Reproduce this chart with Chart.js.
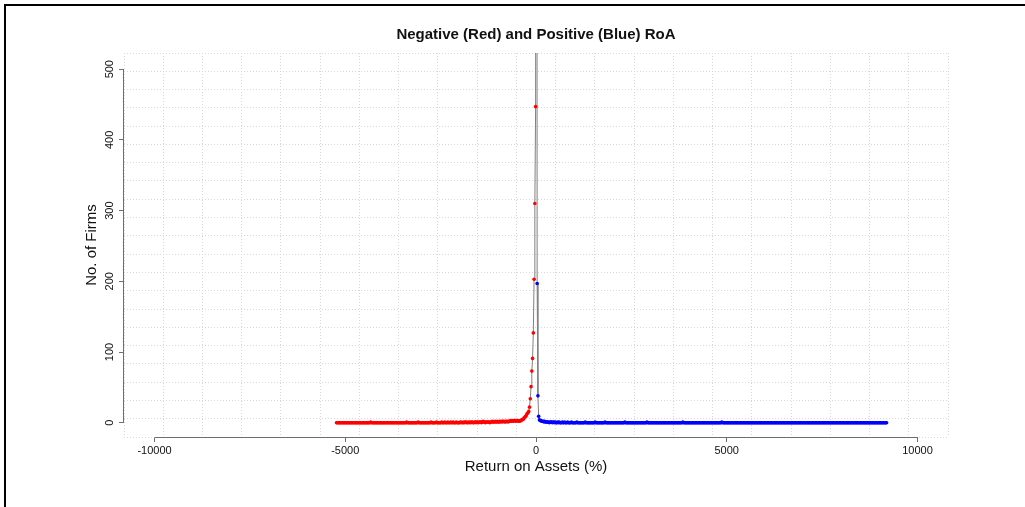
<!DOCTYPE html>
<html>
<head>
<meta charset="utf-8">
<script src="https://cdn.jsdelivr.net/npm/chart.js@4.4.1/dist/chart.umd.min.js"></script>
<style>
  html, body { margin: 0; padding: 0; background: #fff; }
  #wrap { position: relative; width: 1025px; height: 507px; overflow: hidden; }
  #frame { position: absolute; left: 4px; top: 4px; right: 0; bottom: 0; border-top: 2px solid #000; border-left: 2px solid #000; pointer-events: none; }
</style>
</head>
<body>
<div id="wrap">
  <canvas id="chart_roaFrequency" width="1025" height="507"></canvas>
  <div id="frame"></div>
</div>
<script>
var chartTitle = 'Negative (Red) and Positive (Blue) RoA';
var xAxisTitle = 'Return on Assets (%)';
var yAxisTitle = 'No. of Firms';
var xTickValues = [-10000, -5000, 0, 5000, 10000];
var yTickValues = [0, 100, 200, 300, 400, 500];

// frequency per RoA bin, bins 20 points wide
var binWidth = 20;
var negativeFirstBin = -5230;
var positiveFirstBin = 10;

var negativeCounts = [
  0, 0, 0, 0, 0, 0, 0, 0, 0, 0, 0, 0, 0, 0, 0, 0, 0, 0, 0, 0,
  0, 0, 0, 0, 0, 0, 0, 0, 0, 0, 0, 0, 0, 0, 0, 0, 0, 0, 0, 0,
  0, 0, 0, 0, 0, 1, 0, 0, 0, 0, 0, 0, 0, 0, 0, 0, 0, 0, 0, 0,
  0, 0, 0, 0, 0, 0, 0, 0, 0, 0, 0, 0, 0, 0, 0, 0, 0, 0, 0, 0,
  0, 0, 0, 0, 0, 0, 0, 0, 0, 0, 0, 0, 1, 0, 0, 0, 0, 0, 0, 0,
  0, 0, 0, 0, 0, 0, 0, 1, 0, 0, 0, 0, 0, 0, 0, 0, 0, 0, 0, 0,
  0, 0, 0, 0, 1, 0, 0, 0, 0, 0, 0, 1, 0, 0, 0, 0, 0, 0, 1, 0,
  0, 0, 1, 0, 0, 0, 1, 0, 0, 0, 1, 0, 0, 1, 0, 0, 0, 1, 0, 0,
  0, 0, 1, 0, 1, 0, 0, 1, 0, 1, 1, 0, 0, 1, 0, 1, 0, 1, 1, 0,
  0, 1, 1, 0, 1, 1, 0, 1, 1, 1, 0, 1, 2, 1, 1, 0, 1, 1, 1, 1,
  1, 0, 1, 1, 2, 1, 1, 1, 2, 1, 1, 2, 1, 1, 2, 1, 2, 1, 2, 2,
  1, 2, 1, 2, 2, 1, 2, 2, 3, 2, 2, 3, 2, 3, 3, 2, 3, 3, 2, 3,
  2, 3, 3, 4, 5, 5, 7, 8, 9, 11, 13, 14, 16, 22, 34, 51, 73, 91, 127, 203,
  310, 447
];

var positiveCounts = [
  2600, 197, 38, 9, 4, 3, 3, 2, 2, 2, 1, 2, 1, 1, 1, 1, 1, 0, 1, 1,
  1, 0, 1, 1, 0, 1, 0, 0, 1, 0, 1, 0, 0, 0, 1, 0, 0, 1, 0, 0,
  0, 1, 0, 0, 0, 0, 1, 0, 0, 0, 0, 0, 0, 1, 0, 0, 0, 0, 0, 0,
  0, 0, 0, 0, 1, 0, 0, 0, 0, 0, 0, 0, 0, 0, 0, 0, 0, 1, 0, 0,
  0, 0, 0, 0, 0, 0, 0, 0, 0, 0, 1, 0, 0, 0, 0, 0, 0, 0, 0, 0,
  0, 0, 0, 0, 0, 0, 0, 0, 0, 0, 0, 0, 0, 0, 0, 0, 1, 0, 0, 0,
  0, 0, 0, 0, 0, 0, 0, 0, 0, 0, 0, 0, 0, 0, 0, 0, 0, 0, 0, 0,
  0, 0, 0, 0, 0, 1, 0, 0, 0, 0, 0, 0, 0, 0, 0, 0, 0, 0, 0, 0,
  0, 0, 0, 0, 0, 0, 0, 0, 0, 0, 0, 0, 0, 0, 0, 0, 0, 0, 0, 0,
  0, 0, 0, 0, 0, 0, 0, 0, 0, 0, 0, 0, 1, 0, 0, 0, 0, 0, 0, 0,
  0, 0, 0, 0, 0, 0, 0, 0, 0, 0, 0, 0, 0, 0, 0, 0, 0, 0, 0, 0,
  0, 0, 0, 0, 0, 0, 0, 0, 0, 0, 0, 0, 0, 0, 0, 0, 0, 0, 0, 0,
  0, 0, 0, 1, 0, 0, 0, 0, 0, 0, 0, 0, 0, 0, 0, 0, 0, 0, 0, 0,
  0, 0, 0, 0, 0, 0, 0, 0, 0, 0, 0, 0, 0, 0, 0, 0, 0, 0, 0, 0,
  0, 0, 0, 0, 0, 0, 0, 0, 0, 0, 0, 0, 0, 0, 0, 0, 0, 0, 0, 0,
  0, 0, 0, 0, 0, 0, 0, 0, 0, 0, 0, 0, 0, 0, 0, 0, 0, 0, 0, 0,
  0, 0, 0, 0, 0, 0, 0, 0, 0, 0, 0, 0, 0, 0, 0, 0, 0, 0, 0, 0,
  0, 0, 0, 0, 0, 0, 0, 0, 0, 0, 0, 0, 0, 0, 0, 0, 0, 0, 0, 0,
  0, 0, 0, 0, 0, 0, 0, 0, 0, 0, 0, 0, 0, 0, 0, 0, 0, 0, 0, 0,
  0, 0, 0, 0, 0, 0, 0, 0, 0, 0, 0, 0, 0, 0, 0, 0, 0, 0, 0, 0,
  0, 0, 0, 0, 0, 0, 0, 0, 0, 0, 0, 0, 0, 0, 0, 0, 0, 0, 0, 0,
  0, 0, 0, 0, 0, 0, 0, 0, 0, 0, 0, 0, 0, 0, 0, 0, 0, 0, 0, 0,
  0, 0, 0, 0, 0, 0, 0, 0, 0, 0, 0, 0, 0, 0, 0, 0, 0, 0, 0, 0
];

var fontFamily = '"Liberation Sans", Arial, Helvetica, sans-serif';
var axisColor = '#6e6e6e';
var gridColor = '#d8d8d8';

function toPoints(counts, firstBin) {
    return counts.map(function(c, i) { return { x: firstBin + i * binWidth, y: c }; });
}
var negativePoints = toPoints(negativeCounts, negativeFirstBin);
var positivePoints = toPoints(positiveCounts, positiveFirstBin);

// R-style grid: 21 equal cells across the plot region
function evenGridTicks(scale) {
    var ticks = [];
    for (var i = 0; i <= 21; i++) {
        ticks.push({ value: scale.min + (scale.max - scale.min) * i / 21 });
    }
    scale.ticks = ticks;
}

var chart_roaFrequency = new Chart(document.getElementById('chart_roaFrequency'), {
    type: 'scatter',
    data: {
        datasets: [
            {
                label: 'Negative RoA',
                data: negativePoints,
                pointRadius: 1.8,
                pointBorderWidth: 0,
                pointBackgroundColor: '#ff0000',
                order: 1
            },
            {
                label: 'Positive RoA',
                data: positivePoints,
                pointRadius: 1.8,
                pointBorderWidth: 0,
                pointBackgroundColor: '#0000ff',
                order: 1
            },
            {
                label: 'All firms',
                data: negativePoints.concat(positivePoints),
                showLine: true,
                borderColor: '#808080',
                borderWidth: 1,
                pointRadius: 0,
                order: 2
            }
        ]
    },
    options: {
        animation: false,
        responsive: false,
        events: [],
        layout: { padding: { left: 0, top: 53, right: 77, bottom: 0 } },
        plugins: {
            legend: { display: false },
            tooltip: { enabled: false }
        },
        scales: {
            x: {
                type: 'linear',
                position: 'bottom',
                min: -10800,
                max: 10800,
                afterBuildTicks: function(scale) {
                    scale.ticks = xTickValues.map(function(v) { return { value: v }; });
                },
                afterFit: function(scale) { scale.height = 70; },
                grid: { drawOnChartArea: false, drawTicks: true, tickLength: 5, tickColor: axisColor },
                border: { display: false },
                ticks: {
                    font: { family: fontFamily, size: 11 },
                    color: '#111',
                    padding: 2,
                    maxRotation: 0,
                    autoSkip: false,
                    callback: function(value) { return String(value); }
                },
                title: {
                    display: true,
                    text: xAxisTitle,
                    font: { family: fontFamily, size: 15 },
                    color: '#111',
                    padding: { top: 0, bottom: 31 }
                }
            },
            y: {
                type: 'linear',
                position: 'left',
                min: -20.2,
                max: 522.9,
                afterBuildTicks: function(scale) {
                    scale.ticks = yTickValues.map(function(v) { return { value: v }; });
                },
                afterFit: function(scale) { scale.width = 124; },
                grid: { drawOnChartArea: false, drawTicks: true, tickLength: 5, tickColor: axisColor },
                border: { display: false },
                ticks: { display: false },
                title: {
                    display: true,
                    text: yAxisTitle,
                    font: { family: fontFamily, size: 15 },
                    color: '#111',
                    padding: { top: 83, bottom: 0 }
                }
            },
            gx: {
                type: 'linear',
                position: 'top',
                min: -10800,
                max: 10800,
                afterBuildTicks: evenGridTicks,
                afterFit: function(scale) { scale.height = 0; },
                grid: { color: gridColor, lineWidth: 1, drawTicks: false },
                border: { display: false, dash: [1, 2] },
                ticks: { display: false }
            },
            gy: {
                type: 'linear',
                position: 'right',
                min: -20.2,
                max: 522.9,
                afterBuildTicks: evenGridTicks,
                afterFit: function(scale) { scale.width = 0; },
                grid: { color: gridColor, lineWidth: 1, drawTicks: false },
                border: { display: false, dash: [1, 2] },
                ticks: { display: false }
            }
        }
    },
    plugins: [{
        id: 'baseAxes',
        afterDraw: function(chart) {
            var ctx = chart.ctx;
            var xs = chart.scales.x, ys = chart.scales.y, area = chart.chartArea;
            ctx.save();
            // axis lines only span first to last tick, like R's axis()
            ctx.strokeStyle = axisColor;
            ctx.lineWidth = 1;
            ctx.beginPath();
            var yb = Math.round(area.bottom) + 0.5;
            ctx.moveTo(xs.getPixelForValue(xTickValues[0]), yb);
            ctx.lineTo(xs.getPixelForValue(xTickValues[xTickValues.length - 1]), yb);
            var xl = Math.round(area.left) - 0.5;
            ctx.moveTo(xl, ys.getPixelForValue(yTickValues[0]));
            ctx.lineTo(xl, ys.getPixelForValue(yTickValues[yTickValues.length - 1]));
            ctx.stroke();

            // y tick labels run parallel to the axis
            ctx.fillStyle = '#111';
            ctx.font = '11px ' + fontFamily;
            ctx.textAlign = 'center';
            ctx.textBaseline = 'middle';
            yTickValues.forEach(function(v) {
                ctx.save();
                ctx.translate(area.left - 14, ys.getPixelForValue(v));
                ctx.rotate(-Math.PI / 2);
                ctx.fillText(String(v), 0, 0);
                ctx.restore();
            });

            ctx.font = 'bold 15px ' + fontFamily;
            ctx.fillText(chartTitle, (area.left + area.right) / 2, 34.5);
            ctx.restore();
        }
    }]
});
</script>
</body>
</html>
